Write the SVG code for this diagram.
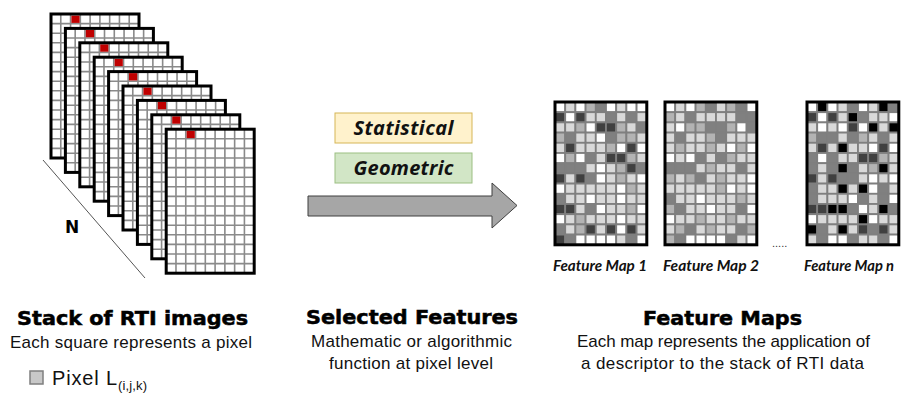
<svg xmlns="http://www.w3.org/2000/svg" xmlns:xlink="http://www.w3.org/1999/xlink" width="903" height="393" viewBox="0 0 903 393">
<style>
.h{font-family:"DejaVu Sans","Liberation Sans",sans-serif;font-weight:bold;font-size:19px;fill:#000;stroke:#000;stroke-width:0.5}
.s{font-family:"Liberation Sans",Arial,sans-serif;font-size:17px;fill:#111}
.lab{font-family:Lato,"Open Sans","Liberation Sans",sans-serif;font-style:italic;font-weight:700;font-size:15px;fill:#111}
.box{font-family:"Open Sans","Liberation Sans",sans-serif;font-style:italic;font-weight:700;font-size:20px;fill:#111}
.fm use{stroke:#7f7f7f;stroke-width:1.8}
.w{fill:#ffffff}.l{fill:#d9d9d9}.m{fill:#b3b3b3}.g{fill:#808080}.d{fill:#404040}.k{fill:#000000}
.border{fill:none;stroke:#000;stroke-width:3}
</style>
<defs>
<g id="frame">
<rect width="88" height="144" fill="#fff"/>
<path d="M9.78 0V144M19.56 0V144M29.33 0V144M39.11 0V144M48.89 0V144M58.67 0V144M68.44 0V144M78.22 0V144M0 9.6H88M0 19.2H88M0 28.8H88M0 38.4H88M0 48H88M0 57.6H88M0 67.2H88M0 76.8H88M0 86.4H88M0 96H88M0 105.6H88M0 115.2H88M0 124.8H88M0 134.4H88" stroke="#8a8a8a" stroke-width="1.6" fill="none"/>
<rect x="20.4" y="1.5" width="8.2" height="7.4" fill="#c00000"/>
<rect width="88" height="144" fill="none" stroke="#000" stroke-width="3"/>
</g>
<rect id="c" width="10.2" height="10.2"/>
</defs>
<rect width="903" height="393" fill="#fff"/>

<g id="stack">
<line x1="43" y1="160" x2="145" y2="278" stroke="#555" stroke-width="1"/>
<use href="#frame" x="51" y="14"/>
<use href="#frame" x="65.4" y="28.4"/>
<use href="#frame" x="79.8" y="42.8"/>
<use href="#frame" x="94.2" y="57.2"/>
<use href="#frame" x="108.6" y="71.6"/>
<use href="#frame" x="123" y="86"/>
<use href="#frame" x="137.4" y="100.4"/>
<use href="#frame" x="151.8" y="114.8"/>
<use href="#frame" x="166.2" y="129.2"/>
<text x="72" y="233" text-anchor="middle" style="font-family:'DejaVu Sans',sans-serif;font-weight:bold;font-size:17px">N</text>
</g>

<g id="stack-caption">
<text class="h" x="17" y="325" textLength="231" lengthAdjust="spacingAndGlyphs">Stack of RTI images</text>
<text class="s" x="10" y="348" textLength="242">Each square represents a pixel</text>
<rect x="30" y="371" width="13" height="13" fill="#c8c8c8" stroke="#7f7f7f" stroke-width="1.5"/>
<text x="52" y="385" style="font-family:'Liberation Sans',Arial,sans-serif;font-size:20px;fill:#111" textLength="65">Pixel L</text>
<text x="118" y="390" style="font-family:'Liberation Sans',Arial,sans-serif;font-size:13px;fill:#111" textLength="29">(i,j,k)</text>
</g>

<g id="statistical">
<rect x="335" y="113" width="137" height="30" fill="#fff2cc" stroke="#d6b656" stroke-width="1"/>
<text class="box" x="403.5" y="135" text-anchor="middle" textLength="100">Statistical</text>
</g>
<g id="geometric">
<rect x="335" y="153" width="137" height="30" fill="#d2e6c6" stroke="#9cbf82" stroke-width="1"/>
<text class="box" x="403.5" y="175" text-anchor="middle" textLength="100">Geometric</text>
</g>

<g id="connectors">
<path d="M308 196H492V183L517 205.5L492 228V216H308Z" fill="#a6a6a6" stroke="#3f3f3f" stroke-width="1"/>
</g>

<g id="features-caption">
<text class="h" x="306" y="324" textLength="212" lengthAdjust="spacingAndGlyphs">Selected Features</text>
<text class="s" x="311" y="347" textLength="201">Mathematic or algorithmic</text>
<text class="s" x="329" y="369" textLength="164">function at pixel level</text>
</g>

<g id="map1" class="fm" transform="translate(555,102)">
<g><use href="#c" x="0" class="w"/><use href="#c" x="10.2" class="l"/><use href="#c" x="20.4" class="w"/><use href="#c" x="30.6" class="m"/><use href="#c" x="40.8" class="g"/><use href="#c" x="51" class="w"/><use href="#c" x="61.2" class="l"/><use href="#c" x="71.4" class="w"/><use href="#c" x="81.6" class="w"/></g>
<g transform="translate(0,10.2)"><use href="#c" x="0" class="d"/><use href="#c" x="10.2" class="w"/><use href="#c" x="20.4" class="d"/><use href="#c" x="30.6" class="l"/><use href="#c" x="40.8" class="l"/><use href="#c" x="51" class="g"/><use href="#c" x="61.2" class="l"/><use href="#c" x="71.4" class="g"/><use href="#c" x="81.6" class="l"/></g>
<g transform="translate(0,20.4)"><use href="#c" x="0" class="l"/><use href="#c" x="10.2" class="l"/><use href="#c" x="20.4" class="m"/><use href="#c" x="30.6" class="w"/><use href="#c" x="40.8" class="d"/><use href="#c" x="51" class="d"/><use href="#c" x="61.2" class="m"/><use href="#c" x="71.4" class="l"/><use href="#c" x="81.6" class="g"/></g>
<g transform="translate(0,30.6)"><use href="#c" x="0" class="m"/><use href="#c" x="10.2" class="g"/><use href="#c" x="20.4" class="l"/><use href="#c" x="30.6" class="l"/><use href="#c" x="40.8" class="w"/><use href="#c" x="51" class="g"/><use href="#c" x="61.2" class="m"/><use href="#c" x="71.4" class="m"/><use href="#c" x="81.6" class="l"/></g>
<g transform="translate(0,40.8)"><use href="#c" x="0" class="l"/><use href="#c" x="10.2" class="d"/><use href="#c" x="20.4" class="l"/><use href="#c" x="30.6" class="l"/><use href="#c" x="40.8" class="l"/><use href="#c" x="51" class="m"/><use href="#c" x="61.2" class="w"/><use href="#c" x="71.4" class="d"/><use href="#c" x="81.6" class="w"/></g>
<g transform="translate(0,51)"><use href="#c" x="0" class="w"/><use href="#c" x="10.2" class="m"/><use href="#c" x="20.4" class="w"/><use href="#c" x="30.6" class="g"/><use href="#c" x="40.8" class="l"/><use href="#c" x="51" class="d"/><use href="#c" x="61.2" class="d"/><use href="#c" x="71.4" class="m"/><use href="#c" x="81.6" class="l"/></g>
<g transform="translate(0,61.2)"><use href="#c" x="0" class="g"/><use href="#c" x="10.2" class="g"/><use href="#c" x="20.4" class="g"/><use href="#c" x="30.6" class="l"/><use href="#c" x="40.8" class="w"/><use href="#c" x="51" class="l"/><use href="#c" x="61.2" class="m"/><use href="#c" x="71.4" class="d"/><use href="#c" x="81.6" class="g"/></g>
<g transform="translate(0,71.4)"><use href="#c" x="0" class="d"/><use href="#c" x="10.2" class="l"/><use href="#c" x="20.4" class="d"/><use href="#c" x="30.6" class="g"/><use href="#c" x="40.8" class="w"/><use href="#c" x="51" class="l"/><use href="#c" x="61.2" class="m"/><use href="#c" x="71.4" class="l"/><use href="#c" x="81.6" class="w"/></g>
<g transform="translate(0,81.6)"><use href="#c" x="0" class="w"/><use href="#c" x="10.2" class="l"/><use href="#c" x="20.4" class="l"/><use href="#c" x="30.6" class="l"/><use href="#c" x="40.8" class="l"/><use href="#c" x="51" class="l"/><use href="#c" x="61.2" class="w"/><use href="#c" x="71.4" class="m"/><use href="#c" x="81.6" class="l"/></g>
<g transform="translate(0,91.8)"><use href="#c" x="0" class="g"/><use href="#c" x="10.2" class="l"/><use href="#c" x="20.4" class="l"/><use href="#c" x="30.6" class="w"/><use href="#c" x="40.8" class="l"/><use href="#c" x="51" class="l"/><use href="#c" x="61.2" class="w"/><use href="#c" x="71.4" class="l"/><use href="#c" x="81.6" class="l"/></g>
<g transform="translate(0,102)"><use href="#c" x="0" class="d"/><use href="#c" x="10.2" class="d"/><use href="#c" x="20.4" class="l"/><use href="#c" x="30.6" class="g"/><use href="#c" x="40.8" class="w"/><use href="#c" x="51" class="l"/><use href="#c" x="61.2" class="l"/><use href="#c" x="71.4" class="m"/><use href="#c" x="81.6" class="w"/></g>
<g transform="translate(0,112.2)"><use href="#c" x="0" class="w"/><use href="#c" x="10.2" class="l"/><use href="#c" x="20.4" class="m"/><use href="#c" x="30.6" class="l"/><use href="#c" x="40.8" class="l"/><use href="#c" x="51" class="l"/><use href="#c" x="61.2" class="w"/><use href="#c" x="71.4" class="l"/><use href="#c" x="81.6" class="l"/></g>
<g transform="translate(0,122.4)"><use href="#c" x="0" class="g"/><use href="#c" x="10.2" class="l"/><use href="#c" x="20.4" class="m"/><use href="#c" x="30.6" class="d"/><use href="#c" x="40.8" class="l"/><use href="#c" x="51" class="d"/><use href="#c" x="61.2" class="w"/><use href="#c" x="71.4" class="d"/><use href="#c" x="81.6" class="l"/></g>
<g transform="translate(0,132.6)"><use href="#c" x="0" class="d"/><use href="#c" x="10.2" class="g"/><use href="#c" x="20.4" class="w"/><use href="#c" x="30.6" class="w"/><use href="#c" x="40.8" class="w"/><use href="#c" x="51" class="w"/><use href="#c" x="61.2" class="l"/><use href="#c" x="71.4" class="g"/><use href="#c" x="81.6" class="w"/></g>
<rect class="border" width="91.8" height="142.8"/>
<text class="lab" x="-2" y="169" textLength="94" lengthAdjust="spacingAndGlyphs">Feature Map 1</text>
</g>

<g id="map2" class="fm" transform="translate(665,102)">
<g><use href="#c" x="0" class="w"/><use href="#c" x="10.2" class="l"/><use href="#c" x="20.4" class="w"/><use href="#c" x="30.6" class="m"/><use href="#c" x="40.8" class="g"/><use href="#c" x="51" class="l"/><use href="#c" x="61.2" class="m"/><use href="#c" x="71.4" class="g"/><use href="#c" x="81.6" class="w"/></g>
<g transform="translate(0,10.2)"><use href="#c" x="0" class="m"/><use href="#c" x="10.2" class="l"/><use href="#c" x="20.4" class="g"/><use href="#c" x="30.6" class="l"/><use href="#c" x="40.8" class="l"/><use href="#c" x="51" class="l"/><use href="#c" x="61.2" class="l"/><use href="#c" x="71.4" class="g"/><use href="#c" x="81.6" class="g"/></g>
<g transform="translate(0,20.4)"><use href="#c" x="0" class="l"/><use href="#c" x="10.2" class="w"/><use href="#c" x="20.4" class="m"/><use href="#c" x="30.6" class="m"/><use href="#c" x="40.8" class="g"/><use href="#c" x="51" class="g"/><use href="#c" x="61.2" class="m"/><use href="#c" x="71.4" class="w"/><use href="#c" x="81.6" class="g"/></g>
<g transform="translate(0,30.6)"><use href="#c" x="0" class="l"/><use href="#c" x="10.2" class="g"/><use href="#c" x="20.4" class="l"/><use href="#c" x="30.6" class="l"/><use href="#c" x="40.8" class="m"/><use href="#c" x="51" class="g"/><use href="#c" x="61.2" class="l"/><use href="#c" x="71.4" class="l"/><use href="#c" x="81.6" class="l"/></g>
<g transform="translate(0,40.8)"><use href="#c" x="0" class="l"/><use href="#c" x="10.2" class="m"/><use href="#c" x="20.4" class="l"/><use href="#c" x="30.6" class="l"/><use href="#c" x="40.8" class="m"/><use href="#c" x="51" class="l"/><use href="#c" x="61.2" class="w"/><use href="#c" x="71.4" class="m"/><use href="#c" x="81.6" class="w"/></g>
<g transform="translate(0,51)"><use href="#c" x="0" class="w"/><use href="#c" x="10.2" class="l"/><use href="#c" x="20.4" class="w"/><use href="#c" x="30.6" class="g"/><use href="#c" x="40.8" class="l"/><use href="#c" x="51" class="g"/><use href="#c" x="61.2" class="m"/><use href="#c" x="71.4" class="l"/><use href="#c" x="81.6" class="l"/></g>
<g transform="translate(0,61.2)"><use href="#c" x="0" class="g"/><use href="#c" x="10.2" class="g"/><use href="#c" x="20.4" class="g"/><use href="#c" x="30.6" class="l"/><use href="#c" x="40.8" class="m"/><use href="#c" x="51" class="l"/><use href="#c" x="61.2" class="l"/><use href="#c" x="71.4" class="g"/><use href="#c" x="81.6" class="l"/></g>
<g transform="translate(0,71.4)"><use href="#c" x="0" class="m"/><use href="#c" x="10.2" class="l"/><use href="#c" x="20.4" class="m"/><use href="#c" x="30.6" class="g"/><use href="#c" x="40.8" class="l"/><use href="#c" x="51" class="m"/><use href="#c" x="61.2" class="l"/><use href="#c" x="71.4" class="l"/><use href="#c" x="81.6" class="w"/></g>
<g transform="translate(0,81.6)"><use href="#c" x="0" class="l"/><use href="#c" x="10.2" class="l"/><use href="#c" x="20.4" class="l"/><use href="#c" x="30.6" class="l"/><use href="#c" x="40.8" class="l"/><use href="#c" x="51" class="m"/><use href="#c" x="61.2" class="w"/><use href="#c" x="71.4" class="l"/><use href="#c" x="81.6" class="w"/></g>
<g transform="translate(0,91.8)"><use href="#c" x="0" class="g"/><use href="#c" x="10.2" class="l"/><use href="#c" x="20.4" class="l"/><use href="#c" x="30.6" class="w"/><use href="#c" x="40.8" class="l"/><use href="#c" x="51" class="l"/><use href="#c" x="61.2" class="l"/><use href="#c" x="71.4" class="m"/><use href="#c" x="81.6" class="l"/></g>
<g transform="translate(0,102)"><use href="#c" x="0" class="m"/><use href="#c" x="10.2" class="g"/><use href="#c" x="20.4" class="l"/><use href="#c" x="30.6" class="l"/><use href="#c" x="40.8" class="w"/><use href="#c" x="51" class="l"/><use href="#c" x="61.2" class="l"/><use href="#c" x="71.4" class="g"/><use href="#c" x="81.6" class="w"/></g>
<g transform="translate(0,112.2)"><use href="#c" x="0" class="w"/><use href="#c" x="10.2" class="l"/><use href="#c" x="20.4" class="l"/><use href="#c" x="30.6" class="m"/><use href="#c" x="40.8" class="l"/><use href="#c" x="51" class="l"/><use href="#c" x="61.2" class="m"/><use href="#c" x="71.4" class="l"/><use href="#c" x="81.6" class="l"/></g>
<g transform="translate(0,122.4)"><use href="#c" x="0" class="l"/><use href="#c" x="10.2" class="m"/><use href="#c" x="20.4" class="g"/><use href="#c" x="30.6" class="l"/><use href="#c" x="40.8" class="m"/><use href="#c" x="51" class="l"/><use href="#c" x="61.2" class="l"/><use href="#c" x="71.4" class="g"/><use href="#c" x="81.6" class="m"/></g>
<g transform="translate(0,132.6)"><use href="#c" x="0" class="m"/><use href="#c" x="10.2" class="g"/><use href="#c" x="20.4" class="w"/><use href="#c" x="30.6" class="w"/><use href="#c" x="40.8" class="w"/><use href="#c" x="51" class="w"/><use href="#c" x="61.2" class="g"/><use href="#c" x="71.4" class="l"/><use href="#c" x="81.6" class="w"/></g>
<rect class="border" width="91.8" height="142.8"/>
<text class="lab" x="-2" y="169" textLength="96" lengthAdjust="spacingAndGlyphs">Feature Map 2</text>
</g>

<text x="772" y="247" style="font-family:'Liberation Sans',sans-serif;font-size:11px;fill:#333">.....</text>

<g id="mapn" class="fm" transform="translate(807,102)">
<g><use href="#c" x="0" class="w"/><use href="#c" x="10.2" class="k"/><use href="#c" x="20.4" class="w"/><use href="#c" x="30.6" class="l"/><use href="#c" x="40.8" class="g"/><use href="#c" x="51" class="w"/><use href="#c" x="61.2" class="l"/><use href="#c" x="71.4" class="k"/><use href="#c" x="81.6" class="g"/></g>
<g transform="translate(0,10.2)"><use href="#c" x="0" class="d"/><use href="#c" x="10.2" class="w"/><use href="#c" x="20.4" class="d"/><use href="#c" x="30.6" class="l"/><use href="#c" x="40.8" class="k"/><use href="#c" x="51" class="g"/><use href="#c" x="61.2" class="l"/><use href="#c" x="71.4" class="l"/><use href="#c" x="81.6" class="w"/></g>
<g transform="translate(0,20.4)"><use href="#c" x="0" class="l"/><use href="#c" x="10.2" class="w"/><use href="#c" x="20.4" class="l"/><use href="#c" x="30.6" class="w"/><use href="#c" x="40.8" class="d"/><use href="#c" x="51" class="w"/><use href="#c" x="61.2" class="k"/><use href="#c" x="71.4" class="l"/><use href="#c" x="81.6" class="k"/></g>
<g transform="translate(0,30.6)"><use href="#c" x="0" class="m"/><use href="#c" x="10.2" class="g"/><use href="#c" x="20.4" class="g"/><use href="#c" x="30.6" class="l"/><use href="#c" x="40.8" class="g"/><use href="#c" x="51" class="m"/><use href="#c" x="61.2" class="l"/><use href="#c" x="71.4" class="g"/><use href="#c" x="81.6" class="l"/></g>
<g transform="translate(0,40.8)"><use href="#c" x="0" class="l"/><use href="#c" x="10.2" class="d"/><use href="#c" x="20.4" class="l"/><use href="#c" x="30.6" class="k"/><use href="#c" x="40.8" class="l"/><use href="#c" x="51" class="l"/><use href="#c" x="61.2" class="w"/><use href="#c" x="71.4" class="d"/><use href="#c" x="81.6" class="w"/></g>
<g transform="translate(0,51)"><use href="#c" x="0" class="g"/><use href="#c" x="10.2" class="w"/><use href="#c" x="20.4" class="g"/><use href="#c" x="30.6" class="l"/><use href="#c" x="40.8" class="l"/><use href="#c" x="51" class="d"/><use href="#c" x="61.2" class="d"/><use href="#c" x="71.4" class="m"/><use href="#c" x="81.6" class="l"/></g>
<g transform="translate(0,61.2)"><use href="#c" x="0" class="g"/><use href="#c" x="10.2" class="l"/><use href="#c" x="20.4" class="g"/><use href="#c" x="30.6" class="k"/><use href="#c" x="40.8" class="g"/><use href="#c" x="51" class="l"/><use href="#c" x="61.2" class="m"/><use href="#c" x="71.4" class="k"/><use href="#c" x="81.6" class="l"/></g>
<g transform="translate(0,71.4)"><use href="#c" x="0" class="d"/><use href="#c" x="10.2" class="l"/><use href="#c" x="20.4" class="d"/><use href="#c" x="30.6" class="g"/><use href="#c" x="40.8" class="g"/><use href="#c" x="51" class="l"/><use href="#c" x="61.2" class="w"/><use href="#c" x="71.4" class="l"/><use href="#c" x="81.6" class="w"/></g>
<g transform="translate(0,81.6)"><use href="#c" x="0" class="g"/><use href="#c" x="10.2" class="l"/><use href="#c" x="20.4" class="l"/><use href="#c" x="30.6" class="k"/><use href="#c" x="40.8" class="l"/><use href="#c" x="51" class="k"/><use href="#c" x="61.2" class="w"/><use href="#c" x="71.4" class="g"/><use href="#c" x="81.6" class="l"/></g>
<g transform="translate(0,91.8)"><use href="#c" x="0" class="g"/><use href="#c" x="10.2" class="l"/><use href="#c" x="20.4" class="l"/><use href="#c" x="30.6" class="l"/><use href="#c" x="40.8" class="w"/><use href="#c" x="51" class="g"/><use href="#c" x="61.2" class="l"/><use href="#c" x="71.4" class="g"/><use href="#c" x="81.6" class="w"/></g>
<g transform="translate(0,102)"><use href="#c" x="0" class="d"/><use href="#c" x="10.2" class="d"/><use href="#c" x="20.4" class="k"/><use href="#c" x="30.6" class="k"/><use href="#c" x="40.8" class="g"/><use href="#c" x="51" class="w"/><use href="#c" x="61.2" class="l"/><use href="#c" x="71.4" class="k"/><use href="#c" x="81.6" class="g"/></g>
<g transform="translate(0,112.2)"><use href="#c" x="0" class="w"/><use href="#c" x="10.2" class="l"/><use href="#c" x="20.4" class="l"/><use href="#c" x="30.6" class="l"/><use href="#c" x="40.8" class="l"/><use href="#c" x="51" class="k"/><use href="#c" x="61.2" class="w"/><use href="#c" x="71.4" class="l"/><use href="#c" x="81.6" class="l"/></g>
<g transform="translate(0,122.4)"><use href="#c" x="0" class="k"/><use href="#c" x="10.2" class="g"/><use href="#c" x="20.4" class="l"/><use href="#c" x="30.6" class="k"/><use href="#c" x="40.8" class="l"/><use href="#c" x="51" class="d"/><use href="#c" x="61.2" class="g"/><use href="#c" x="71.4" class="d"/><use href="#c" x="81.6" class="l"/></g>
<g transform="translate(0,132.6)"><use href="#c" x="0" class="l"/><use href="#c" x="10.2" class="g"/><use href="#c" x="20.4" class="w"/><use href="#c" x="30.6" class="w"/><use href="#c" x="40.8" class="g"/><use href="#c" x="51" class="l"/><use href="#c" x="61.2" class="l"/><use href="#c" x="71.4" class="g"/><use href="#c" x="81.6" class="w"/></g>
<rect class="border" width="91.8" height="142.8"/>
<text class="lab" x="-3" y="169" textLength="90" lengthAdjust="spacingAndGlyphs">Feature Map n</text>
</g>

<g id="maps-caption">
<text class="h" x="643" y="325" textLength="159" lengthAdjust="spacingAndGlyphs">Feature Maps</text>
<text class="s" x="577" y="347" textLength="293">Each map represents the application of</text>
<text class="s" x="581" y="369" textLength="283">a descriptor to the stack of RTI data</text>
</g>
</svg>
